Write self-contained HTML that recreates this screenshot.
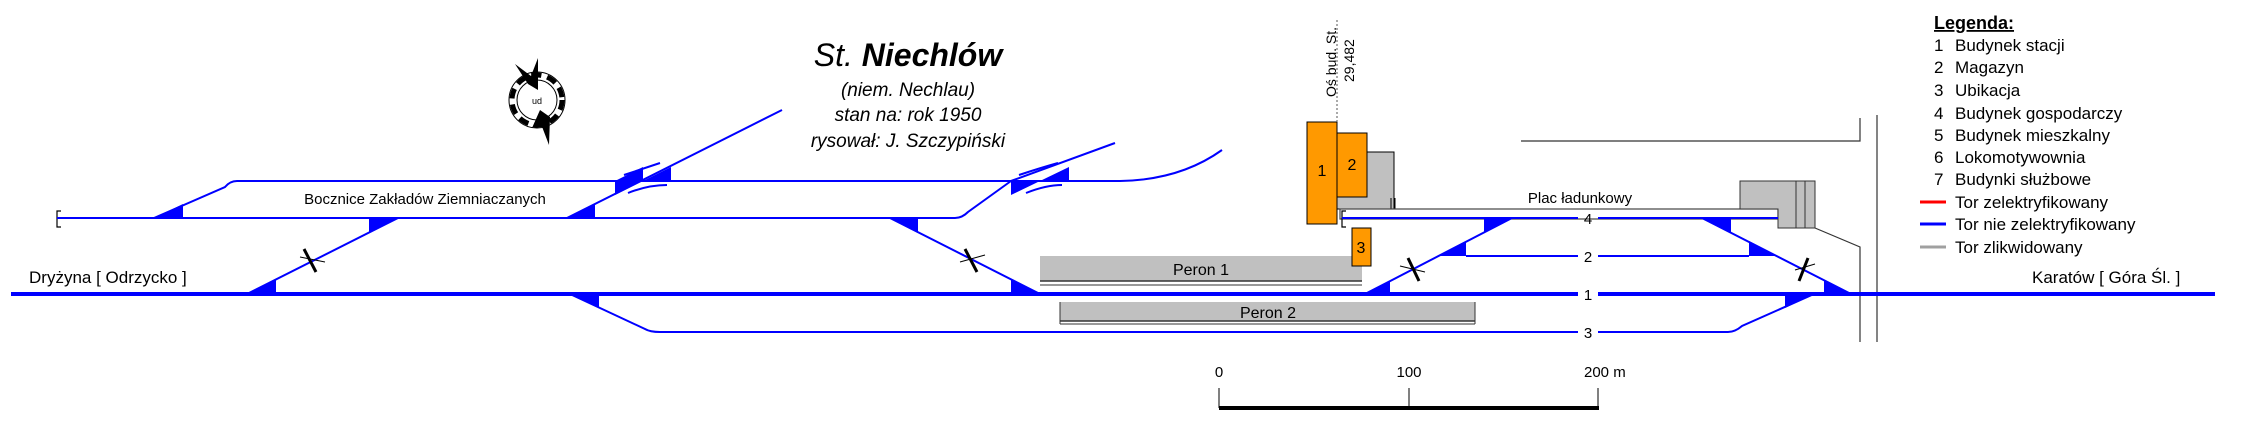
<!DOCTYPE html>
<html><head><meta charset="utf-8"><style>
html,body{margin:0;padding:0;background:#fff;}
svg{display:block;}
text{font-family:"Liberation Sans",sans-serif;fill:#000;}
</style></head><body>
<svg width="2250" height="436" viewBox="0 0 2250 436" xmlns="http://www.w3.org/2000/svg">
<rect x="1040" y="256" width="322" height="25" fill="#c0c0c0"/>
<line x1="1040" y1="281" x2="1362" y2="281" stroke="#333" stroke-width="1.5"/>
<line x1="1040" y1="285" x2="1362" y2="285" stroke="#333" stroke-width="1"/>
<rect x="1060" y="302" width="415" height="19" fill="#c0c0c0"/>
<line x1="1060" y1="321" x2="1475" y2="321" stroke="#333" stroke-width="1.5"/>
<line x1="1060" y1="324" x2="1475" y2="324" stroke="#333" stroke-width="1"/>
<line x1="1060" y1="302" x2="1060" y2="324" stroke="#333" stroke-width="1"/>
<line x1="1475" y1="302" x2="1475" y2="324" stroke="#333" stroke-width="1"/>
<text x="1201" y="275" font-size="16" text-anchor="middle">Peron 1</text>
<text x="1268" y="318" font-size="16" text-anchor="middle">Peron 2</text>

<rect x="1337" y="152" width="57" height="57" fill="#c0c0c0" stroke="#000" stroke-width="1"/>
<line x1="1391" y1="198" x2="1391" y2="209" stroke="#000"/><line x1="1395" y1="198" x2="1395" y2="209" stroke="#000"/>
<rect x="1307" y="122" width="30" height="102" fill="#f90" stroke="#000" stroke-width="1"/>
<rect x="1337" y="133" width="30" height="64" fill="#f90" stroke="#000" stroke-width="1"/>
<rect x="1352" y="228" width="19" height="38" fill="#f90" stroke="#000" stroke-width="1"/>
<text x="1322" y="176" font-size="16" text-anchor="middle">1</text>
<text x="1352" y="170" font-size="16" text-anchor="middle">2</text>
<text x="1361" y="253" font-size="16" text-anchor="middle">3</text>
<line x1="1337" y1="122" x2="1337" y2="20" stroke="#555" stroke-width="1" stroke-dasharray="2,2"/>
<text transform="translate(1336,97) rotate(-90)" font-size="14">Oś bud. St.</text>
<text transform="translate(1354,82) rotate(-90)" font-size="14">29,482</text>

<rect x="1340" y="209" width="438" height="10" fill="#fff" stroke="#444" stroke-width="1.2"/>
<text x="1580" y="203" font-size="15" text-anchor="middle">Plac ładunkowy</text>
<path d="M1346,211 h-4 v16 h4" fill="none" stroke="#000" stroke-width="1.2"/>
<path d="M1740,181 H1815 V228 H1778 V209 H1740 Z" fill="#c0c0c0" stroke="#333" stroke-width="1"/>
<line x1="1796" y1="181" x2="1796" y2="228" stroke="#333"/>
<line x1="1805" y1="181" x2="1805" y2="228" stroke="#333"/>
<polyline points="1815,228 1860,247 1860,342" fill="none" stroke="#333" stroke-width="1.2"/>
<line x1="1877" y1="115" x2="1877" y2="342" stroke="#333" stroke-width="1.2"/>
<polyline points="1521,141 1860,141 1860,118" fill="none" stroke="#333" stroke-width="1.2"/>

<path d="M61,211 h-4 v16 h4" fill="none" stroke="#000" stroke-width="1.2"/>

<g stroke="#0000ff" fill="none" stroke-width="2">
<path d="M57,218 H955 Q962,218 968,212 L1011,181"/>
<path d="M237,181 Q230,181 225,187 L154,218"/>
<path d="M237,181 H1120 Q1180,180 1222,150"/>
<line x1="567" y1="218" x2="782" y2="110"/>
<line x1="1011" y1="181" x2="1115" y2="143"/>
<line x1="247" y1="294" x2="398" y2="218"/>
<line x1="890" y1="218" x2="1040" y2="294"/>
<path d="M570,294 L645,329 Q650,332 660,332 H1578 M1598,332 H1728 Q1735,332 1742,326 L1814,294"/>
<path d="M1342,218 H1578 M1598,218 H1778"/>
<path d="M1466,256 H1578 M1598,256 H1749"/>
<line x1="1365" y1="294" x2="1512" y2="218"/>
<line x1="1702" y1="218" x2="1851" y2="294"/>
<path d="M624,175 Q645,168 660,163 M628,193 Q648,185 667,185"/>
<path d="M1019,175 Q1040,168 1058,163 M1026,193 Q1046,185 1062,185"/>
</g>
<path d="M11,294 H1578 M1598,294 H2215" stroke="#0000ff" stroke-width="4" fill="none"/>
<g font-size="15" text-anchor="middle"><text x="1588" y="224">4</text><text x="1588" y="262">2</text><text x="1588" y="300">1</text><text x="1588" y="338">3</text></g>

<g fill="#0000ff">
<polygon points="154,218 183,218 183,204"/>
<polygon points="567,218 595,218 595,204"/>
<polygon points="615,181 643,181 643,167"/>
<polygon points="643,181 671,181 671,167"/>
<polygon points="615,181 643,181 615,195"/>
<polygon points="1011,181 1040,181 1011,195"/>
<polygon points="1040,181 1069,181 1069,167"/>
<polygon points="247,294 276,294 276,280"/>
<polygon points="369,218 398,218 369,233"/>
<polygon points="890,218 918,218 918,233"/>
<polygon points="1011,294 1040,294 1011,280"/>
<polygon points="570,294 599,294 599,308"/>
<polygon points="1785,308 1814,294 1785,294"/>
<polygon points="1365,294 1390,294 1390,281"/>
<polygon points="1437,256 1466,256 1466,241"/>
<polygon points="1484,218 1512,218 1484,232"/>
<polygon points="1702,218 1731,218 1731,233"/>
<polygon points="1749,256 1778,256 1749,241"/>
<polygon points="1824,294 1851,294 1824,280"/>
</g>
<g stroke="#000" stroke-width="3">
<line x1="304" y1="249" x2="316" y2="272"/><line x1="965" y1="249" x2="977" y2="272"/>
<line x1="1408" y1="258" x2="1419" y2="281"/><line x1="1808" y1="258" x2="1799" y2="281"/>
</g>
<g stroke="#000" stroke-width="1">
<line x1="300" y1="257" x2="325" y2="262"/><line x1="960" y1="262" x2="985" y2="255"/>
<line x1="1400" y1="266" x2="1425" y2="272"/><line x1="1795" y1="270" x2="1815" y2="264"/>
</g>

<circle cx="537" cy="100" r="25" fill="none" stroke="#000" stroke-width="5" stroke-dasharray="10,6"/>
<circle cx="537" cy="100" r="28" fill="none" stroke="#000" stroke-width="1"/>
<circle cx="537" cy="100" r="20" fill="none" stroke="#000" stroke-width="1"/>
<polygon points="515,64 531,76 538,58 538,90 528,84" fill="#000"/>
<polygon points="540,110 550,117 549,145 541,124 532,128" fill="#000"/>
<text x="537" y="104" font-size="9" text-anchor="middle">ud</text>

<text x="908" y="66" font-size="32" font-style="italic" text-anchor="middle">St. <tspan font-weight="bold">Niechlów</tspan></text>
<text x="908" y="96" font-size="19" font-style="italic" text-anchor="middle">(niem. Nechlau)</text>
<text x="908" y="121" font-size="19" font-style="italic" text-anchor="middle">stan na: rok 1950</text>
<text x="908" y="147" font-size="19" font-style="italic" text-anchor="middle">rysował: J. Szczypiński</text>
<text x="425" y="204" font-size="15" text-anchor="middle">Bocznice Zakładów Ziemniaczanych</text>
<text x="29" y="283" font-size="17">Dryżyna [ Odrzycko ]</text>
<text x="2032" y="283" font-size="17">Karatów [ Góra Śl. ]</text>

<text x="1934" y="29" font-size="18" font-weight="bold" text-decoration="underline">Legenda:</text>
<g font-size="17">
<text x="1934" y="51">1</text><text x="1955" y="51">Budynek stacji</text>
<text x="1934" y="73">2</text><text x="1955" y="73">Magazyn</text>
<text x="1934" y="96">3</text><text x="1955" y="96">Ubikacja</text>
<text x="1934" y="119">4</text><text x="1955" y="119">Budynek gospodarczy</text>
<text x="1934" y="141">5</text><text x="1955" y="141">Budynek mieszkalny</text>
<text x="1934" y="163">6</text><text x="1955" y="163">Lokomotywownia</text>
<text x="1934" y="185">7</text><text x="1955" y="185">Budynki służbowe</text>
<text x="1955" y="208">Tor zelektryfikowany</text>
<text x="1955" y="230">Tor nie zelektryfikowany</text>
<text x="1955" y="253">Tor zlikwidowany</text>
</g>
<line x1="1920" y1="202" x2="1946" y2="202" stroke="#ff0000" stroke-width="3"/>
<line x1="1920" y1="224" x2="1946" y2="224" stroke="#0000ff" stroke-width="3"/>
<line x1="1920" y1="247" x2="1946" y2="247" stroke="#a0a0a0" stroke-width="3"/>

<g font-size="15">
<text x="1219" y="377" text-anchor="middle">0</text>
<text x="1409" y="377" text-anchor="middle">100</text>
<text x="1584" y="377">200 m</text>
</g>
<g stroke="#000" stroke-width="1">
<line x1="1219" y1="388" x2="1219" y2="408"/><line x1="1409" y1="388" x2="1409" y2="408"/><line x1="1598" y1="388" x2="1598" y2="408"/>
</g>
<line x1="1219" y1="408" x2="1599" y2="408" stroke="#000" stroke-width="4"/>
</svg>
</body></html>
